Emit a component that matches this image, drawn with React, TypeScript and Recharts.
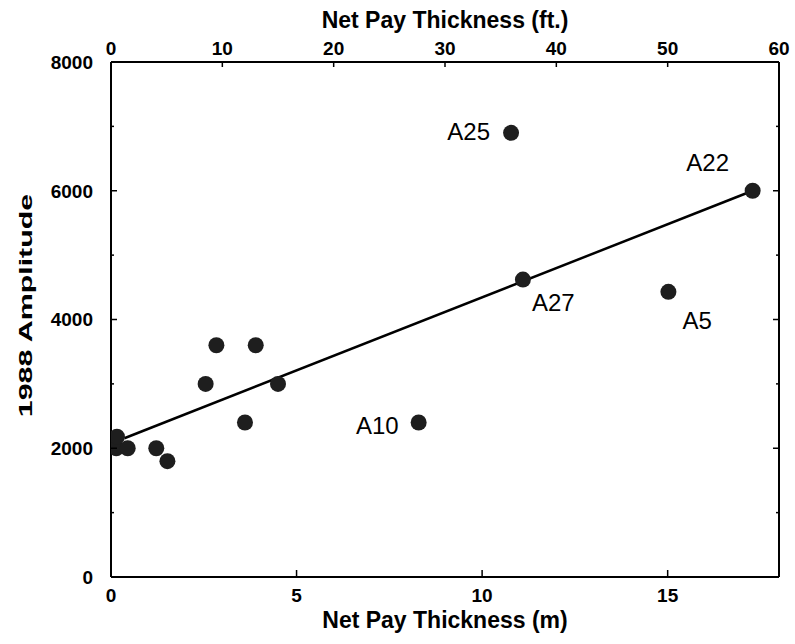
import React from "react";
import { ComposedChart, Scatter, XAxis, YAxis, Label } from "recharts";

// well data: net pay (m) vs 1988 amplitude
const thicknessM = [0.14, 0.16, 0.45, 1.22, 1.52, 2.55, 2.84, 3.61, 3.9, 4.5, 8.29, 10.78, 11.1, 15.02, 17.29];
const amplitude = [2000, 2180, 2000, 2000, 1800, 3000, 3600, 2400, 3600, 3000, 2400, 6900, 4620, 4430, 6000];
const wellNames = ["", "", "", "", "", "", "", "", "", "", "A10", "A25", "A27", "A5", "A22"];

// trend line end points
const trendThicknessM = [0.36, 17.29];
const trendAmplitude = [2155, 6000];

const amplitudeTicks = [0, 1000, 2000, 3000, 4000, 5000, 6000, 7000, 8000];
const meterTicks = [0, 5, 10, 15];
const feetTicks = [0, 10, 20, 30, 40, 50, 60];

const FONT = "'Liberation Sans', Arial, Helvetica, sans-serif";
const INK = "#000";

// where each well name sits relative to its dot
const LABEL_PLACEMENT: Record<string, { dx: number; dy: number; anchor: "start" | "middle" | "end" }> = {
  A25: { dx: -21, dy: 7, anchor: "end" },
  A22: { dx: -45, dy: -20, anchor: "middle" },
  A27: { dx: 9, dy: 31, anchor: "start" },
  A5: { dx: 14, dy: 37, anchor: "start" },
  A10: { dx: -20, dy: 11, anchor: "end" },
};

const wells = thicknessM.map((x, i) => ({ x, y: amplitude[i], name: wellNames[i] }));
const trend = trendThicknessM.map((x, i) => ({ x, y: trendAmplitude[i] }));

const tickText = {
  fontFamily: FONT,
  fontSize: 19,
  fontWeight: 700,
  fill: INK,
};

function WellDot(props: any) {
  const { cx, cy, payload } = props;
  const place = LABEL_PLACEMENT[payload?.name];
  return (
    <g>
      <circle cx={cx} cy={cy} r={8} fill="#1e1e1e" />
      {place && (
        <text
          x={cx + place.dx}
          y={cy + place.dy}
          textAnchor={place.anchor}
          fontFamily={FONT}
          fontSize={24}
          fill={INK}
        >
          {payload.name}
        </text>
      )}
    </g>
  );
}

const NoDot = () => <g />;

// left: labels every 2000, short inward ticks every 1000
function LeftTick(props: any) {
  const { x, y, payload } = props;
  const axisX = x + 18;
  const major = payload.value % 2000 === 0;
  return (
    <g>
      <line x1={axisX} x2={axisX + (major ? 6 : 3)} y1={y} y2={y} stroke={INK} strokeWidth={1.5} />
      {major && (
        <text x={x} y={y} dy="0.36em" textAnchor="end" {...tickText}>
          {payload.value}
        </text>
      )}
    </g>
  );
}

function RightTick(props: any) {
  const { x, y, payload } = props;
  const major = payload.value % 2000 === 0;
  return <line x1={x} x2={x - (major ? 6 : 3)} y1={y} y2={y} stroke={INK} strokeWidth={1.5} />;
}

function TopTick(props: any) {
  const { x, y, payload } = props;
  const axisY = y + 7;
  return (
    <g>
      <line x1={x} x2={x} y1={axisY} y2={axisY + 5} stroke={INK} strokeWidth={1.5} />
      <text x={x} y={y} textAnchor="middle" {...tickText}>
        {payload.value}
      </text>
    </g>
  );
}

function BottomTick(props: any) {
  const { x, y, payload } = props;
  const axisY = y - 25;
  return (
    <g>
      <line x1={x} x2={x} y1={axisY} y2={axisY - 7} stroke={INK} strokeWidth={1.5} />
      <text x={x} y={y} textAnchor="middle" {...tickText}>
        {payload.value}
      </text>
    </g>
  );
}

const titleText = {
  fontFamily: FONT,
  fontSize: 23,
  fontWeight: 700,
  fill: INK,
};

export default function App() {
  return (
    <div style={{ position: "absolute", left: 0, top: 0, width: 795, height: 644, background: "#fff" }}>
      <ComposedChart width={795} height={644} margin={{ top: 0, right: 0, bottom: 0, left: 0 }}>
        <XAxis
          xAxisId="m"
          type="number"
          dataKey="x"
          orientation="bottom"
          domain={[0, 18]}
          ticks={meterTicks}
          interval={0}
          allowDataOverflow
          height={67}
          axisLine={{ stroke: INK, strokeWidth: 2 }}
          tickLine={false}
          tickSize={0}
          tickMargin={25}
          tick={<BottomTick />}
        >
          <Label
            content={({ viewBox }: any) => (
              <text x={viewBox.x + viewBox.width / 2} y={viewBox.y + 51} textAnchor="middle" {...titleText}>
                Net Pay Thickness (m)
              </text>
            )}
          />
        </XAxis>
        {/* feet scale along the top, same span as 0–18 m */}
        <XAxis
          xAxisId="ft"
          type="number"
          dataKey="x"
          orientation="top"
          domain={[0, 60]}
          ticks={feetTicks}
          interval={0}
          allowDataOverflow
          height={62}
          axisLine={{ stroke: INK, strokeWidth: 2 }}
          tickLine={false}
          tickSize={0}
          tickMargin={7}
          tick={<TopTick />}
        >
          <Label
            content={({ viewBox }: any) => (
              <text x={viewBox.x + viewBox.width / 2} y={viewBox.y + 28} textAnchor="middle" {...titleText}>
                Net Pay Thickness (ft.)
              </text>
            )}
          />
        </XAxis>
        <YAxis
          yAxisId="amp"
          type="number"
          dataKey="y"
          orientation="left"
          domain={[0, 8000]}
          ticks={amplitudeTicks}
          interval={0}
          allowDataOverflow
          width={111}
          axisLine={{ stroke: INK, strokeWidth: 2 }}
          tickLine={false}
          tickSize={0}
          tickMargin={18}
          tick={<LeftTick />}
        >
          <Label
            content={({ viewBox }: any) => (
              <text
                transform={`translate(25, ${viewBox.y + viewBox.height / 2 - 14}) rotate(-90) scale(1.6, 1)`}
                textAnchor="middle"
                dominantBaseline="central"
                fontFamily={FONT}
                fontSize={19}
                fontWeight={700}
                fill={INK}
              >
                1988 Amplitude
              </text>
            )}
          />
        </YAxis>
        <YAxis
          yAxisId="ampRight"
          type="number"
          dataKey="y"
          orientation="right"
          domain={[0, 8000]}
          ticks={amplitudeTicks}
          interval={0}
          allowDataOverflow
          width={16}
          axisLine={{ stroke: INK, strokeWidth: 2 }}
          tickLine={false}
          tickSize={0}
          tickMargin={0}
          tick={<RightTick />}
        />
        <Scatter
          data={trend}
          xAxisId="m"
          yAxisId="amp"
          line={{ stroke: INK, strokeWidth: 2.5 }}
          shape={<NoDot />}
          isAnimationActive={false}
        />
        <Scatter data={wells} xAxisId="m" yAxisId="amp" shape={<WellDot />} isAnimationActive={false} />
      </ComposedChart>
    </div>
  );
}
